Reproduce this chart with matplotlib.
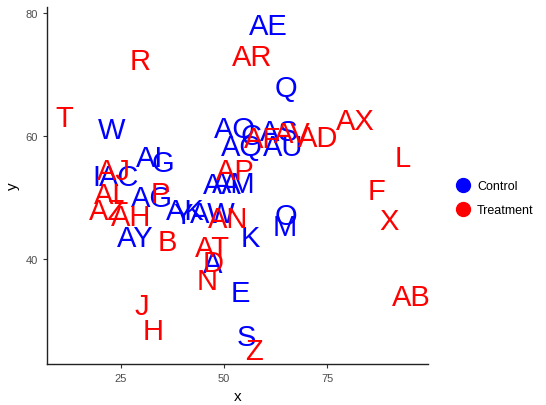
import matplotlib
matplotlib.use("Agg")
import matplotlib.pyplot as plt
from matplotlib.lines import Line2D

# labelled points, split by group
control_labels = ["AE", "Q", "W", "AO", "C", "AS", "AQ", "AU", "AI", "G", "I", "AC",
                  "AA", "AM", "AG", "AK", "Y", "AW", "O", "M", "K", "AY", "A", "E", "S"]
control_x = [60.7, 65.0, 22.8, 52.7, 56.6, 63.3, 54.4, 64.3, 32.0, 35.0, 18.9, 24.5,
             49.5, 52.4, 32.5, 40.5, 40.0, 47.3, 65.0, 64.6, 56.3, 28.4, 47.3, 53.9, 55.3]
control_y = [78.4, 68.3, 61.5, 61.6, 60.5, 61.1, 58.7, 58.7, 56.9, 56.1, 53.8, 53.8,
             52.5, 52.7, 50.4, 48.3, 47.6, 47.8, 47.5, 45.7, 43.9, 43.9, 39.7, 35.0, 27.8]

treatment_labels = ["AR", "R", "T", "AX", "AD", "AF", "AV", "L", "AJ", "AP", "F", "AL",
                    "P", "AZ", "AH", "AN", "X", "B", "AT", "D", "N", "AB", "J", "H", "Z"]
treatment_x = [56.8, 29.6, 11.2, 81.8, 72.8, 59.2, 66.5, 93.4, 23.3, 52.7, 87.1, 22.8,
               34.5, 21.8, 27.4, 51.0, 90.0, 36.2, 47.1, 47.3, 45.9, 95.4, 30.1, 32.8, 57.3]
treatment_y = [73.3, 72.7, 63.4, 62.9, 60.2, 60.0, 60.8, 56.9, 54.8, 54.8, 51.5, 50.9,
               51.1, 48.3, 47.3, 47.0, 46.7, 43.3, 42.3, 39.8, 36.9, 34.3, 32.8, 28.8, 25.5]

groups = ["Control", "Treatment"]
colors = {"Control": "#0000FF", "Treatment": "#FF0000"}

plt.rcParams["font.family"] = ["Liberation Sans", "DejaVu Sans"]

fig = plt.figure(figsize=(5.46, 4.06), dpi=100)
ax = fig.add_axes([0.086, 0.101, 0.698, 0.879])

for lab, x, y in zip(control_labels, control_x, control_y):
    ax.text(x, y, lab, color=colors["Control"], fontsize=21, ha="center", va="center_baseline")
for lab, x, y in zip(treatment_labels, treatment_x, treatment_y):
    ax.text(x, y, lab, color=colors["Treatment"], fontsize=21, ha="center", va="center_baseline")

ax.set_xlim(7.0, 99.5)
ax.set_ylim(22.9, 81.0)
ax.set_xticks([25, 50, 75])
ax.set_yticks([40, 60, 80])
ax.tick_params(labelsize=8, labelcolor="#4d4d4d", length=3, color="#333333")
for side in ["top", "right"]:
    ax.spines[side].set_visible(False)
for side in ["left", "bottom"]:
    ax.spines[side].set_color("#222222")
    ax.spines[side].set_linewidth(1.0)
ax.set_xlabel("x", fontsize=11)
ax.set_ylabel("y", fontsize=11)

handles = [Line2D([], [], marker="o", linestyle="", markersize=10,
                  color=colors[g]) for g in groups]
fig.legend(handles, groups, loc="center left", bbox_to_anchor=(0.805, 0.51),
           frameon=False, fontsize=9, handletextpad=0.1, labelspacing=0.95)

fig.savefig("out.png", dpi=100)
